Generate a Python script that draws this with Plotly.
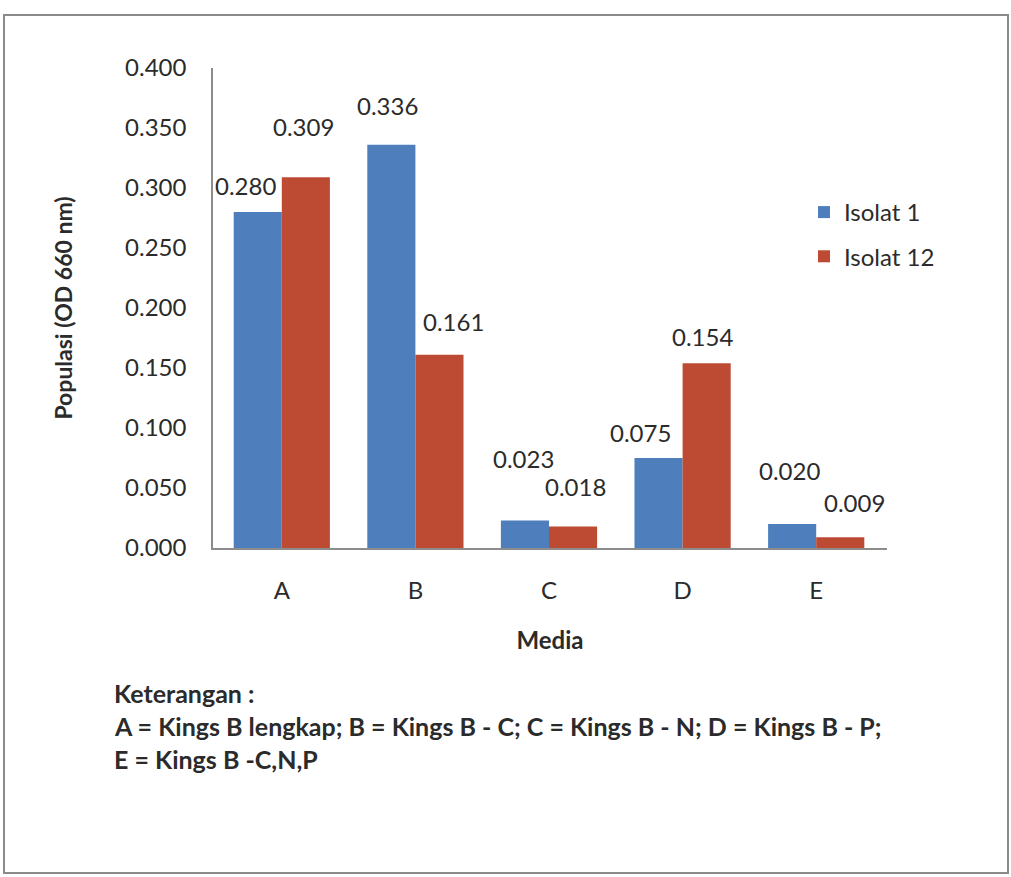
import plotly.graph_objects as go

# Data
categories = ["A", "B", "C", "D", "E"]
isolat_1 = [0.280, 0.336, 0.023, 0.075, 0.020]
isolat_12 = [0.309, 0.161, 0.018, 0.154, 0.009]
series_names = ["Isolat 1", "Isolat 12"]
y_ticks = [0.000, 0.050, 0.100, 0.150, 0.200, 0.250, 0.300, 0.350, 0.400]
notes = [
    "Keterangan :",
    "A = Kings B lengkap; B = Kings B - C; C = Kings B - N; D = Kings B - P;",
    "E = Kings B -C,N,P",
]

# Styling / layout constants (pixels)
W, H = 1011, 877
PL, PR, PT, PB = 213, 887, 68, 548          # plot area edges
BLUE, RED = "#4F7EBC", "#BD4A33"
TEXT = "#2B2B2B"
AXIS = "#8C8C8C"
FONT = "Lato, Open Sans, sans-serif"
FS = 24
BAR_HALF = 24.3                               # half of one bar width in px

# hand-placed value label nudges (dx, dy above bar top), px
nudge_1 = [(-12, 27), (-4, 39), (-1, 62), (-18, 26), (-2, 54)]
nudge_12 = [(-3, 51), (14, 33), (2, 40), (-4, 27), (14, 35)]

fig = go.Figure()
fig.add_trace(go.Bar(x=categories, y=isolat_1, name=series_names[0],
                     marker=dict(color=BLUE, line=dict(width=0)),
                     legendgroup="g1"))
fig.add_trace(go.Bar(x=categories, y=isolat_12, name=series_names[1],
                     marker=dict(color=RED, line=dict(width=0)),
                     legendgroup="g2"))

annotations = []
for vals, nudges, off in ((isolat_1, nudge_1, -BAR_HALF), (isolat_12, nudge_12, BAR_HALF)):
    for cat, v, (dx, dy) in zip(categories, vals, nudges):
        annotations.append(dict(
            x=cat, y=v, xref="x", yref="y", text=f"{v:.3f}", showarrow=False,
            xshift=off + dx, yshift=dy, xanchor="center", yanchor="middle",
            font=dict(family=FONT, size=FS, color=TEXT)))

# explanatory notes under the chart
pw, ph = PR - PL, PB - PT
def px_x(px):
    return (px - PL) / pw
def px_y(py):
    return (PB - py) / ph

for i, line in enumerate(notes):
    annotations.append(dict(
        x=px_x(112), y=px_y(693 + 33 * i), xref="paper", yref="paper",
        text=f"<b>{line}</b>", showarrow=False, xanchor="left", yanchor="middle",
        font=dict(family=FONT, size=25, color=TEXT)))

fig.update_layout(
    width=W, height=H,
    margin=dict(l=PL, r=W - PR, t=PT, b=H - PB, pad=0),
    paper_bgcolor="white", plot_bgcolor="white",
    font=dict(family=FONT, size=FS, color=TEXT),
    barmode="group", bargap=0.28, bargroupgap=0,
    showlegend=True,
    legend=dict(x=px_x(804), y=px_y(190), xanchor="left", yanchor="top",
                traceorder="grouped", tracegroupgap=10,
                font=dict(family=FONT, size=FS, color=TEXT),
                bgcolor="rgba(0,0,0,0)"),
    xaxis=dict(showline=True, linecolor=AXIS, linewidth=1.5, ticks="",
               showgrid=False, ticklabelstandoff=20,
               tickfont=dict(family=FONT, size=FS, color=TEXT),
               title=dict(text="<b>Media</b>", standoff=30,
                          font=dict(family=FONT, size=FS, color=TEXT))),
    yaxis=dict(range=[0, 0.4], tickvals=y_ticks, tickformat=".3f",
               showline=True, linecolor=AXIS, linewidth=1.5, ticks="",
               showgrid=False, zeroline=False, ticklabelstandoff=20,
               tickfont=dict(family=FONT, size=FS, color=TEXT),
               title=dict(text="<b>Populasi (OD 660 nm)</b>", standoff=46,
                          font=dict(family=FONT, size=23, color=TEXT))),
    annotations=annotations,
    shapes=[dict(type="rect", xref="paper", yref="paper",
                 x0=px_x(4), x1=px_x(1008), y0=px_y(873), y1=px_y(15),
                 line=dict(color="#8A8A8A", width=2), fillcolor="rgba(0,0,0,0)",
                 layer="below")],
)

fig.write_html("out.html")
